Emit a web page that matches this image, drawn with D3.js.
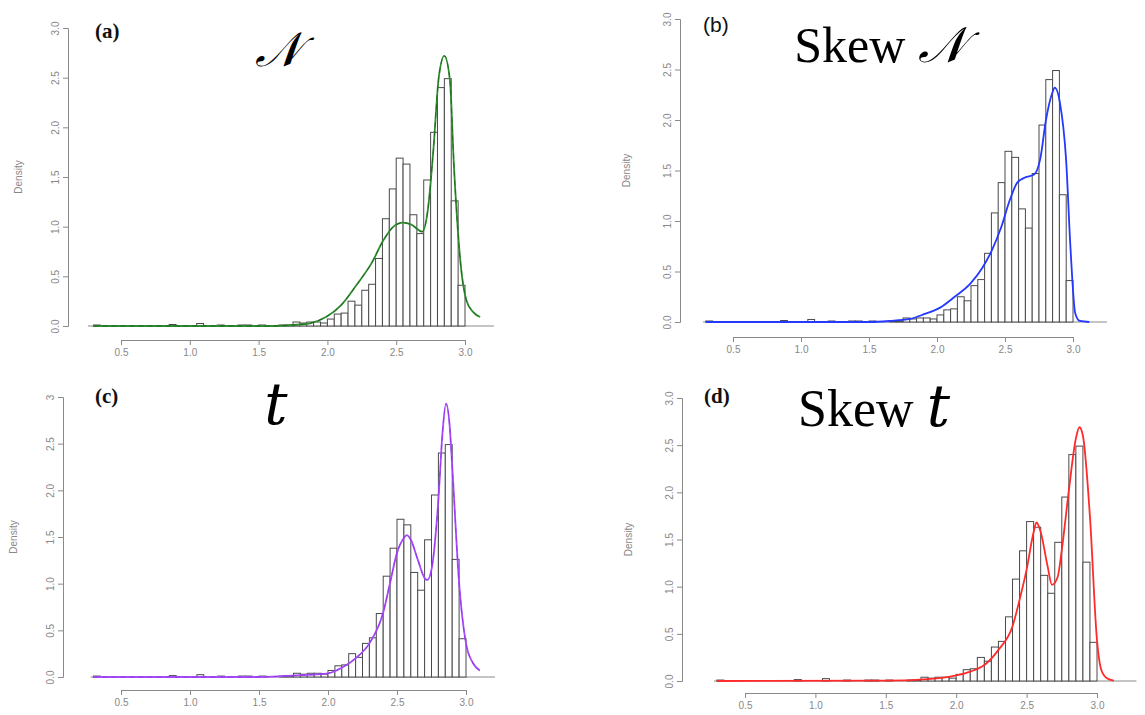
<!DOCTYPE html>
<html>
<head>
<meta charset="utf-8">
<script src="https://cdn.jsdelivr.net/npm/d3@7/dist/d3.min.js"></script>
<style>
  body { margin: 0; background: #fff; }
  .tick text { fill: #888; font-family: "Liberation Sans", Arial, sans-serif; font-size: 10px; }
  .axis path, .axis line { stroke: #8a8a8a; }
</style>
</head>
<body>
<div id="chart"></div>
<script>
var w = 1145;
var h = 715;

// histogram (same sample in every panel): lower bin edge, bin width 0.05
var binLo = [0.30, 0.85, 1.05, 1.20, 1.35, 1.40, 1.50, 1.65, 1.70, 1.75, 1.80, 1.85, 1.90, 1.95,
             2.00, 2.05, 2.10, 2.15, 2.20, 2.25, 2.30, 2.35, 2.40, 2.45, 2.50, 2.55, 2.60, 2.65,
             2.70, 2.75, 2.80, 2.85, 2.90, 2.95];
var binDensity = [0.01, 0.015, 0.025, 0.01, 0.01, 0.01, 0.01, 0.01, 0.01, 0.04, 0.03, 0.04, 0.04, 0.03,
                  0.07, 0.12, 0.13, 0.25, 0.21, 0.36, 0.42, 0.68, 1.08, 1.38, 1.69, 1.63, 1.12, 0.93,
                  1.47, 1.95, 2.40, 2.49, 1.26, 0.41];
var binWidth = 0.05;

var xTicks = [0.5, 1.0, 1.5, 2.0, 2.5, 3.0];
var yTicks = [0, 0.5, 1.0, 1.5, 2.0, 2.5, 3.0];
var yTickLabels = ["0.0", "0.5", "1.0", "1.5", "2.0", "2.5", "3.0"];
var yTickLabelsT = ["0.0", "0.5", "1.0", "1.5", "2.0", "2.5", "3"];

// fitted densities: [x, density]
var normalFit = [[0.30, 0], [1.60, 0], [1.70, 0.005], [1.80, 0.015], [1.88, 0.03], [1.99, 0.09],
  [2.10, 0.21], [2.21, 0.41], [2.32, 0.63], [2.41, 0.87], [2.48, 1.00], [2.55, 1.04], [2.61, 1.02],
  [2.69, 0.95], [2.73, 1.17], [2.77, 1.77], [2.81, 2.51], [2.85, 2.72], [2.89, 2.48], [2.92, 1.60],
  [2.97, 0.60], [3.01, 0.26], [3.06, 0.14], [3.11, 0.09]];
var skewNormalFit = [[0.30, 0], [1.50, 0], [1.65, 0.01], [1.80, 0.03], [1.91, 0.08], [2.02, 0.14],
  [2.13, 0.25], [2.245, 0.38], [2.335, 0.54], [2.40, 0.70], [2.47, 0.93], [2.536, 1.21], [2.59, 1.38],
  [2.647, 1.43], [2.714, 1.46], [2.76, 1.62], [2.80, 1.99], [2.848, 2.27], [2.866, 2.32], [2.904, 2.17],
  [2.949, 1.61], [2.982, 0.72], [3.016, 0.09], [3.05, 0.01], [3.12, 0]];
var tFit = [[0.30, 0], [1.50, 0], [1.80, 0.02], [2.00, 0.04], [2.10, 0.10], [2.20, 0.20], [2.30, 0.36],
  [2.40, 0.69], [2.45, 1.01], [2.50, 1.33], [2.55, 1.49], [2.57, 1.52], [2.60, 1.47], [2.65, 1.26],
  [2.70, 1.06], [2.72, 1.04], [2.75, 1.15], [2.80, 1.90], [2.83, 2.62], [2.855, 2.93], [2.88, 2.72],
  [2.90, 2.26], [2.95, 1.01], [3.00, 0.36], [3.05, 0.15], [3.10, 0.07]];
var skewTFit = [[0.30, 0], [1.50, 0.003], [1.80, 0.02], [2.00, 0.06], [2.10, 0.10], [2.20, 0.17],
  [2.30, 0.33], [2.40, 0.58], [2.45, 0.86], [2.50, 1.18], [2.55, 1.58], [2.57, 1.68], [2.60, 1.58],
  [2.65, 1.21], [2.68, 1.02], [2.72, 1.10], [2.75, 1.39], [2.80, 2.02], [2.85, 2.57], [2.875, 2.69],
  [2.90, 2.60], [2.95, 1.74], [3.00, 0.43], [3.03, 0.12], [3.07, 0.03], [3.12, 0.005]];

var panels = [
  { label: "(a)", labelFont: "bold 21px 'Liberation Serif', serif", lx: 95, ly: 38,
    title: [["\uD835\uDCA9", "script"]], tx: 278, ty: 66, size: 48,
    fit: normalFit, color: "#2c8e2c", dash: "#1f4a1f",
    axisLeft: 68, x05: 121, x30: 465, y0: 326, y3: 28, xAxisY: 340, yLabels: yTickLabels, dx: 22, start: 0.26, end: 3.21 },
  { label: "(b)", labelFont: "21px 'Liberation Sans', sans-serif", lx: 703, ly: 32,
    title: [["Skew ", "normal"], ["\uD835\uDCA9", "script"]], tx: 880, ty: 62, size: 50,
    fit: skewNormalFit, color: "#2438ff", dash: null,
    axisLeft: 680, x05: 733, x30: 1073, y0: 322, y3: 19, xAxisY: 337, yLabels: yTickLabels, dx: 630, start: 0.28, end: 3.25 },
  { label: "(c)", labelFont: "bold 21px 'Liberation Serif', serif", lx: 95, ly: 403,
    title: [["t", "italic"]], tx: 276, ty: 424, size: 52,
    fit: tFit, color: "#a54cff", dash: "#8a2ad0",
    axisLeft: 63, x05: 121, x30: 466, y0: 677, y3: 397, xAxisY: 690, yLabels: yTickLabelsT, dx: 17, start: 0.28, end: 3.21 },
  { label: "(d)", labelFont: "bold 21px 'Liberation Serif', serif", lx: 704, ly: 403,
    title: [["Skew ", "normal"], ["t", "italic"]], tx: 874, ty: 426, size: 52,
    fit: skewTFit, color: "#ff2a2a", dash: null,
    axisLeft: 682, x05: 745, x30: 1097, y0: 681, y3: 398, xAxisY: 693, yLabels: yTickLabels, dx: 632, start: 0.28, end: 3.28 }
];

function
drawPanel(svg, p)
{
  var x = d3.scaleLinear().domain([0.5, 3.0]).range([p.x05, p.x30]);
  var y = d3.scaleLinear().domain([0, 3.0]).range([p.y0, p.y3]);
  var g = svg.append('g');

  // x axis
  var xa = g.append('g')
    .attr('class', 'axis')
    .attr('transform', 'translate(0,' + p.xAxisY + ')')
    .call(d3.axisBottom(x).tickValues(xTicks).tickSizeOuter(0).tickSize(5).tickFormat(d3.format('.1f')));
  xa.selectAll('text').attr('y', 9);

  // y axis, labels turned like R does
  var ya = g.append('g')
    .attr('class', 'axis')
    .attr('transform', 'translate(' + p.axisLeft + ',0)')
    .call(d3.axisLeft(y).tickValues(yTicks).tickSizeOuter(0).tickSize(5)
      .tickFormat(function(d, i) { return p.yLabels[i]; }));
  ya.selectAll('text')
    .attr('transform', 'rotate(-90)')
    .attr('x', 0)
    .attr('y', -9)
    .attr('dy', 0)
    .attr('text-anchor', 'middle');

  g.append('text')
    .attr('transform', 'translate(' + p.dx + ',' + ((p.y0 + p.y3) / 2) + ') rotate(-90)')
    .attr('text-anchor', 'middle')
    .attr('fill', '#888')
    .style('font-family', "'Liberation Sans', Arial, sans-serif")
    .style('font-size', '10px')
    .text('Density');

  // baseline
  g.append('line')
    .attr('x1', x(p.start)).attr('x2', x(p.end))
    .attr('y1', y(0)).attr('y2', y(0))
    .attr('stroke', '#8a8a8a');

  // histogram
  g.selectAll('rect.bar')
    .data(binLo)
    .enter().append('rect')
    .attr('class', 'bar')
    .attr('x', function(d) { return x(d); })
    .attr('width', function(d) { return x(d + binWidth) - x(d); })
    .attr('y', function(d, i) { return y(binDensity[i]); })
    .attr('height', function(d, i) { return y(0) - y(binDensity[i]); })
    .attr('fill', '#fff')
    .attr('stroke', '#4a4a4a')
    .attr('stroke-width', 1);

  var line = d3.line()
    .x(function(d) { return x(d[0]); })
    .y(function(d) { return y(d[1]); })
    .curve(d3.curveMonotoneX);

  g.append('path')
    .attr('d', line(p.fit))
    .attr('fill', 'none')
    .attr('stroke', p.color)
    .attr('stroke-width', 1.8);

  if (p.dash) {
    g.append('path')
      .attr('d', line(p.fit))
      .attr('fill', 'none')
      .attr('stroke', p.dash)
      .attr('stroke-width', 1)
      .attr('stroke-dasharray', '5,4')
      .attr('opacity', 0.6);
  }

  g.append('text')
    .attr('x', p.lx).attr('y', p.ly)
    .style('font', p.labelFont)
    .attr('fill', '#111')
    .text(p.label);

  var title = g.append('text')
    .attr('x', p.tx).attr('y', p.ty)
    .attr('text-anchor', 'middle')
    .attr('fill', '#000');
  p.title.forEach(function(part) {
    var ts = title.append('tspan').text(part[0]);
    if (part[1] == 'normal') {
      ts.style('font-family', "'Liberation Serif', 'Times New Roman', serif").style('font-size', p.size + 'px');
    } else if (part[1] == 'italic') {
      ts.style('font-family', "'DejaVu Serif', serif").style('font-size', (p.size + 6) + 'px')
        .style('font-style', 'italic');
    } else {
      ts.style('font-family', "'DejaVu Serif', 'DejaVu Sans', serif").style('font-size', p.size + 'px')
        .style('font-style', 'italic');
    }
  });
}

function
initChart()
{
  var svg = d3.select('#chart')
    .append('svg')
    .attr('width', w)
    .attr('height', h);

  for (var i = 0; i < panels.length; i++) {
    drawPanel(svg, panels[i]);
  }
}

initChart();
</script>
</body>
</html>
